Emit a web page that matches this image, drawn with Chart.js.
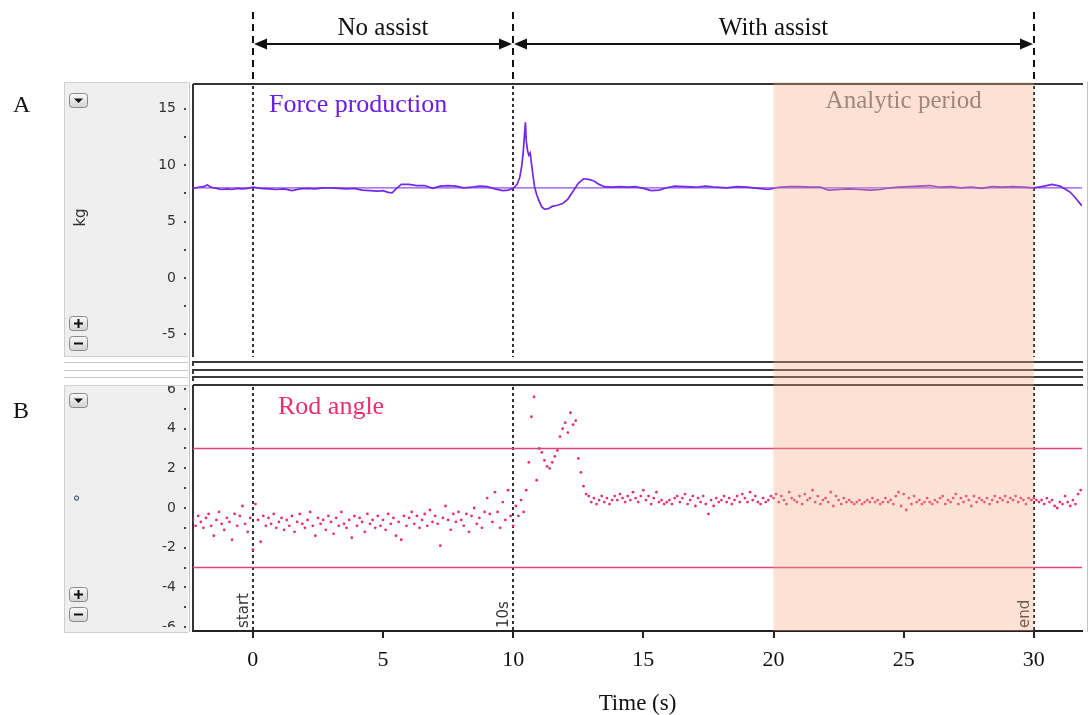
<!DOCTYPE html>
<html><head><meta charset="utf-8">
<script src="https://cdn.jsdelivr.net/npm/chart.js@4.4.1/dist/chart.umd.min.js"></script>
<style>
html,body{margin:0;padding:0;background:#fff;}
#wrap{position:relative;width:1092px;height:715px;overflow:hidden;background:#fff;}
canvas{position:absolute;left:0;}
#cA{top:0;}
#cB{top:360px;}
</style></head><body>
<div id="wrap"><canvas id="cA" width="1092" height="360"></canvas><canvas id="cB" width="1092" height="355"></canvas></div>
<script>
// ---------------- data ----------------
const timeRange = [-2.3, 31.85];          // s, visible window
const phaseMarks = [0, 10, 30];            // s
const phaseMarkLabels = ['start', '10s', 'end'];
const phaseNames = ['No assist', 'With assist'];
const phaseBounds = [0, 10, 30];           // No assist: 0-10, With assist: 10-30
const analyticPeriod = [20, 30];           // s

const forceTime = [
  -2.3,-2.1,-1.9,-1.75,-1.6,-1.4,-1.2,-1.0,-0.8,-0.6,
  -0.4,-0.2,0.0,0.3,0.6,0.9,1.2,1.5,1.8,2.1,
  2.4,2.7,3.0,3.3,3.6,3.9,4.2,4.5,4.8,5.0,
  5.2,5.35,5.5,5.7,6.0,6.3,6.6,6.9,7.2,7.5,
  7.8,8.1,8.4,8.7,9.0,9.3,9.6,9.8,10.0,10.15,
  10.25,10.32,10.38,10.43,10.47,10.5,10.55,10.6,10.65,10.7,
  10.76,10.82,10.9,11.0,11.1,11.2,11.35,11.5,11.7,11.9,
  12.1,12.3,12.5,12.7,12.9,13.1,13.3,13.5,13.8,14.1,
  14.4,14.7,15.0,15.3,15.6,15.9,16.2,16.6,17.0,17.4,
  17.8,18.2,18.6,19.0,19.4,19.8,20.2,20.6,21.0,21.4,
  21.8,22.1,22.5,22.9,23.3,23.7,24.1,24.5,24.8,25.2,
  25.6,26.0,26.4,26.8,27.2,27.6,28.0,28.4,28.8,29.2,
  29.6,30.0,30.4,30.7,31.0,31.2,31.4,31.6,31.85
];
const forceKg = [
  7.95,8.05,8.1,8.25,8.05,7.95,7.85,7.9,7.85,7.95,
  7.9,7.95,8.05,7.95,7.9,7.85,7.9,7.75,7.9,7.95,
  7.9,8.0,8.0,7.95,7.9,7.95,7.8,7.75,7.7,7.75,
  7.6,7.55,7.9,8.3,8.3,8.2,8.2,7.95,8.15,8.2,
  8.15,8.0,8.05,8.15,8.1,7.9,7.75,7.8,7.95,8.3,
  8.9,9.8,11.0,12.6,13.8,12.2,11.3,10.9,11.1,10.2,
  9.1,8.1,7.4,6.8,6.3,6.1,6.15,6.35,6.45,6.6,
  7.0,7.7,8.4,8.8,8.75,8.6,8.3,8.1,8.05,8.1,
  8.05,8.1,7.95,7.75,7.8,8.0,8.15,8.1,8.05,8.15,
  8.05,8.0,8.1,8.05,7.95,7.85,8.05,8.1,8.1,8.05,
  8.05,7.8,7.85,7.9,7.85,7.8,7.85,8.0,8.05,8.1,
  8.15,8.2,8.05,8.1,8.0,8.05,7.95,8.1,8.05,8.1,
  8.05,8.0,8.15,8.3,8.15,7.9,7.6,7.1,6.4
];
const forceRefKg = 8;
const forceRange = [-7.0, 17.2];

const angleStart = -2.3;   // s, first sample
const angleStep = 0.1;     // s, sampling interval
const angleDeg = [
  -0.6,-0.9,-0.4,
  -0.7,-1.0,-0.5,-0.3,-0.9,-1.4,-0.6,-0.2,-0.8,-1.1,
  -0.5,-0.7,-1.6,-0.3,-0.9,-0.4,0.1,-0.8,-1.2,-0.5,
  -2.1,0.2,-0.6,-1.7,-0.4,-0.9,-0.5,-0.8,-0.3,-1.0,
  -0.7,-0.5,-1.1,-0.6,-0.9,-0.4,-1.2,-0.7,-0.3,-0.8,
  -1.0,-0.6,-0.2,-0.9,-1.4,-0.5,-0.8,-0.6,-1.1,-0.4,
  -0.7,-1.3,-0.5,-0.9,-0.2,-0.8,-1.0,-0.6,-1.5,-0.4,
  -0.9,-0.5,-0.7,-1.2,-0.3,-0.8,-0.6,-1.0,-0.4,-0.9,
  -0.6,-1.1,-0.3,-0.8,-0.5,-1.4,-0.7,-1.6,-0.4,-0.9,
  -0.5,-0.2,-0.8,-0.4,-1.0,-0.6,-0.3,-0.9,-0.1,-0.7,
  -0.4,-0.8,-1.9,-0.5,0.1,-0.6,-1.1,-0.3,-0.7,-0.2,
  -0.6,-0.9,-0.3,-1.2,-0.4,0.0,-0.8,-0.5,-1.0,-0.2,
  0.5,-0.3,-0.7,0.8,-0.2,-1.0,0.3,-0.6,0.9,-0.4,
  -0.9,0.1,-0.4,0.4,-0.2,0.9,2.3,4.6,5.6,1.4,
  3.0,2.8,2.4,2.1,2.0,2.3,2.6,2.9,3.6,4.0,
  4.3,3.8,4.8,4.2,4.4,2.5,1.8,1.1,0.7,0.6,
  0.3,0.5,0.2,0.4,0.6,0.3,0.5,0.2,0.4,0.6,
  0.4,0.7,0.5,0.3,0.6,0.4,0.8,0.5,0.3,0.6,
  0.9,0.4,0.6,0.2,0.5,0.8,0.3,0.4,0.2,0.3,
  0.4,0.2,0.5,0.6,0.3,0.5,0.7,0.2,0.4,0.6,
  0.1,0.5,0.3,0.6,0.2,-0.3,0.4,0.1,0.5,0.3,
  0.4,0.6,0.3,0.5,0.2,0.4,0.6,0.3,0.7,0.5,
  0.3,0.8,0.4,0.6,0.3,0.2,0.5,0.3,0.4,0.6,
  0.5,0.7,0.3,0.6,0.4,0.2,0.8,0.5,0.4,0.3,
  0.6,0.2,0.7,0.4,0.5,0.9,0.3,0.6,0.2,0.4,
  0.5,0.3,0.8,0.1,0.6,0.4,0.2,0.5,0.3,0.4,
  0.3,0.2,0.3,0.4,0.2,0.3,0.4,0.3,0.5,0.3,
  0.4,0.2,0.3,0.5,0.3,0.4,0.2,0.6,0.8,0.1,
  0.7,-0.1,0.5,0.2,0.6,0.3,0.4,0.2,0.3,0.5,
  0.3,0.2,0.4,0.3,0.5,0.6,0.2,0.4,0.3,0.5,
  0.7,0.2,0.5,0.3,0.6,0.4,0.1,0.6,0.3,0.5,
  0.4,0.3,0.5,0.2,0.4,0.6,0.3,0.5,0.4,0.6,
  0.3,0.5,0.4,0.6,0.3,0.5,0.4,0.2,0.5,0.4,
  0.5,0.4,0.3,0.4,0.2,0.5,0.3,0.4,0.1,0.0,
  0.3,0.2,0.6,0.3,0.1,0.4,0.2,0.7,0.9,0.6
];
const angleLimits = [3, -3];
const angleRange = [-6.2, 6.2];

// ---------------- style ----------------
const SERIF = '"Liberation Serif", "Times New Roman", serif';
const SANS = '"DejaVu Sans", Verdana, sans-serif';
const FORCE_COLOR = '#7328e3';
const FORCE_TEXT = '#6a1de8';
const ANGLE_COLOR = '#e8306f';
const SHADE = 'rgba(243,170,130,0.34)';

function xPix(chart, v) { return chart.scales.x.getPixelForValue(v); }

function drawButton(ctx, x, y, kind) {
  const w = 18, h = 14;
  ctx.save();
  ctx.beginPath();
  if (ctx.roundRect) ctx.roundRect(x + 0.5, y + 0.5, w, h, 3); else ctx.rect(x + 0.5, y + 0.5, w, h);
  const g = ctx.createLinearGradient(0, y, 0, y + h);
  g.addColorStop(0, '#fbfbfb'); g.addColorStop(1, '#d4d4d4');
  ctx.fillStyle = g; ctx.fill();
  ctx.strokeStyle = '#8a8a8a'; ctx.lineWidth = 1; ctx.stroke();
  const cx = x + w / 2 + 0.5, cy = y + h / 2 + 0.5;
  ctx.fillStyle = '#111'; ctx.strokeStyle = '#111'; ctx.lineWidth = 2;
  if (kind === 'down') {
    ctx.beginPath(); ctx.moveTo(cx - 4.5, cy - 2); ctx.lineTo(cx + 4.5, cy - 2); ctx.lineTo(cx, cy + 2.5); ctx.closePath(); ctx.fill();
  } else {
    ctx.beginPath(); ctx.moveTo(cx - 4.5, cy); ctx.lineTo(cx + 4.5, cy);
    if (kind === 'plus') { ctx.moveTo(cx, cy - 4.5); ctx.lineTo(cx, cy + 4.5); }
    ctx.stroke();
  }
  ctx.restore();
}

function drawTickDots(chart) {
  const {ctx, chartArea: a, scales: {y}} = chart;
  ctx.fillStyle = '#444';
  y.ticks.forEach(t => {
    const py = Math.round(y.getPixelForValue(t.value));
    if (py >= a.top - 1 && py <= a.bottom + 1) ctx.fillRect(a.left - 9, py - 1, 2, 2);
  });
}

function drawPhaseLines(chart) {
  const {ctx, chartArea: a} = chart;
  ctx.save();
  ctx.setLineDash([3, 3]); ctx.strokeStyle = '#333'; ctx.lineWidth = 2;
  phaseMarks.forEach(v => {
    const x = Math.round(xPix(chart, v));
    ctx.beginPath(); ctx.moveTo(x, a.top + 2); ctx.lineTo(x, a.bottom); ctx.stroke();
  });
  ctx.restore();
}

function drawArrowHead(ctx, tipX, y, dir) {
  ctx.beginPath();
  ctx.moveTo(tipX, y);
  ctx.lineTo(tipX + dir * 13, y - 5.5);
  ctx.lineTo(tipX + dir * 13, y + 5.5);
  ctx.closePath(); ctx.fill();
}

const panelA = {
  id: 'panelA',
  beforeDraw(chart) {
    const {ctx, chartArea: a} = chart;
    ctx.save();
    ctx.fillStyle = '#efefef'; ctx.fillRect(64, 82, 124, a.bottom - 82);
    ctx.strokeStyle = '#d0d0d0'; ctx.lineWidth = 1;
    ctx.beginPath();
    ctx.moveTo(64, 82.5); ctx.lineTo(188, 82.5);
    ctx.moveTo(64.5, 82); ctx.lineTo(64.5, a.bottom);
    ctx.moveTo(64, a.bottom - 0.5); ctx.lineTo(188, a.bottom - 0.5);
    ctx.stroke();
    ctx.strokeStyle = '#c2c2c2';
    ctx.beginPath();
    ctx.moveTo(189.5, 82); ctx.lineTo(189.5, chart.height);
    ctx.moveTo(1087.5, 82); ctx.lineTo(1087.5, chart.height);
    ctx.stroke();
    ctx.restore();
  },
  beforeDatasetsDraw(chart) {
    const {ctx, chartArea: a} = chart;
    ctx.save();
    ctx.strokeStyle = '#333'; ctx.lineWidth = 2;
    ctx.beginPath();
    ctx.moveTo(a.left, a.top); ctx.lineTo(a.right + 1, a.top);
    ctx.moveTo(a.left, a.top); ctx.lineTo(a.left, a.bottom);
    ctx.stroke();
    drawTickDots(chart);
    ctx.restore();
    drawPhaseLines(chart);
  },
  afterDatasetsDraw(chart) {
    const {ctx, chartArea: a} = chart;
    const x0 = xPix(chart, analyticPeriod[0]), x1 = xPix(chart, analyticPeriod[1]);
    ctx.save();
    ctx.fillStyle = SHADE;
    ctx.fillRect(x0, a.top - 2, x1 - x0, chart.height - a.top + 2);
    ctx.restore();
  },
  afterDraw(chart) {
    const {ctx, chartArea: a} = chart;
    ctx.save();
    // top phase markers (dashed) and arrows
    ctx.strokeStyle = '#111'; ctx.lineWidth = 2; ctx.setLineDash([7, 5]);
    phaseBounds.forEach(v => {
      const x = Math.round(xPix(chart, v));
      ctx.beginPath(); ctx.moveTo(x, 12); ctx.lineTo(x, a.top - 2); ctx.stroke();
    });
    ctx.setLineDash([]);
    ctx.fillStyle = '#111';
    const ay = 44;
    for (let i = 0; i < phaseNames.length; i++) {
      const xa = Math.round(xPix(chart, phaseBounds[i])) + 1;
      const xb = Math.round(xPix(chart, phaseBounds[i + 1])) - 1;
      ctx.beginPath(); ctx.moveTo(xa + 6, ay); ctx.lineTo(xb - 6, ay); ctx.stroke();
      drawArrowHead(ctx, xa, ay, 1);
      drawArrowHead(ctx, xb, ay, -1);
      ctx.font = `25px ${SERIF}`; ctx.textAlign = 'center'; ctx.textBaseline = 'alphabetic';
      ctx.fillText(phaseNames[i], (xa + xb) / 2, 35);
    }
    // panel letter
    ctx.textAlign = 'left';
    ctx.font = `24px ${SERIF}`; ctx.fillStyle = '#111';
    ctx.fillText('A', 13, 112);
    // panel title
    ctx.font = `26px ${SERIF}`; ctx.fillStyle = FORCE_TEXT;
    ctx.fillText('Force production', 269, 112);
    // analytic period label
    const p0 = xPix(chart, analyticPeriod[0]), p1 = xPix(chart, analyticPeriod[1]);
    ctx.font = `25px ${SERIF}`; ctx.fillStyle = '#a1877a'; ctx.textAlign = 'center';
    ctx.fillText('Analytic period', (p0 + p1) / 2, 108);
    // axis unit
    ctx.save();
    ctx.translate(85, (a.top + a.bottom) / 2 - 3); ctx.rotate(-Math.PI / 2);
    ctx.font = `15px ${SANS}`; ctx.fillStyle = '#333'; ctx.textAlign = 'center';
    ctx.fillText('kg', 0, 0);
    ctx.restore();
    ctx.restore();
    drawButton(ctx, 69, 93, 'down');
    drawButton(ctx, 69, 316, 'plus');
    drawButton(ctx, 69, 336, 'minus');
  }
};

const gapLines = [2, 10, 17];
const panelB = {
  id: 'panelB',
  beforeDraw(chart) {
    const {ctx, chartArea: a} = chart;
    ctx.save();
    // collapsed channel separators
    gapLines.forEach(y => {
      ctx.strokeStyle = '#c8c8c8'; ctx.lineWidth = 1;
      ctx.beginPath(); ctx.moveTo(64, y + 0.5); ctx.lineTo(188, y + 0.5); ctx.stroke();
      ctx.strokeStyle = '#3a3a3a'; ctx.lineWidth = 2;
      ctx.beginPath(); ctx.moveTo(a.left, y + 4); ctx.lineTo(a.left, y); ctx.lineTo(a.right + 1, y); ctx.stroke();
    });
    ctx.fillStyle = '#efefef'; ctx.fillRect(64, a.top, 124, a.bottom - a.top + 1);
    ctx.strokeStyle = '#d0d0d0'; ctx.lineWidth = 1;
    ctx.beginPath();
    ctx.moveTo(64, a.top + 0.5); ctx.lineTo(188, a.top + 0.5);
    ctx.moveTo(64.5, a.top); ctx.lineTo(64.5, a.bottom + 1);
    ctx.moveTo(64, a.bottom + 1.5); ctx.lineTo(188, a.bottom + 1.5);
    ctx.stroke();
    ctx.strokeStyle = '#c2c2c2';
    ctx.beginPath();
    ctx.moveTo(189.5, 0); ctx.lineTo(189.5, a.bottom + 1);
    ctx.moveTo(1087.5, 0); ctx.lineTo(1087.5, a.bottom + 1);
    ctx.stroke();
    ctx.restore();
    // clip the y tick labels at the channel edges
    ctx.save();
    ctx.beginPath();
    ctx.rect(0, 0, chart.width, chart.height);
    ctx.rect(120, 0, 66, a.top + 1);
    ctx.rect(120, a.bottom - 4, 66, 40);
    ctx.clip('evenodd');
  },
  beforeDatasetsDraw(chart) {
    const {ctx, chartArea: a} = chart;
    ctx.restore();
    ctx.save();
    ctx.strokeStyle = '#333'; ctx.lineWidth = 2;
    ctx.beginPath();
    ctx.moveTo(a.left, a.top); ctx.lineTo(a.right + 1, a.top);
    ctx.moveTo(a.left, a.top); ctx.lineTo(a.left, a.bottom);
    ctx.stroke();
    drawTickDots(chart);
    ctx.restore();
    drawPhaseLines(chart);
  },
  afterDatasetsDraw(chart) {
    const {ctx, chartArea: a} = chart;
    ctx.save();
    // phase marker labels
    ctx.font = `15px ${SANS}`; ctx.fillStyle = '#333'; ctx.textAlign = 'left'; ctx.textBaseline = 'alphabetic';
    phaseMarks.forEach((v, i) => {
      ctx.save();
      ctx.translate(Math.round(xPix(chart, v)) - 5, a.bottom - 3);
      ctx.rotate(-Math.PI / 2);
      ctx.fillText(phaseMarkLabels[i], 0, 0);
      ctx.restore();
    });
    const x0 = xPix(chart, analyticPeriod[0]), x1 = xPix(chart, analyticPeriod[1]);
    ctx.fillStyle = SHADE;
    ctx.fillRect(x0, 0, x1 - x0, a.bottom);
    ctx.restore();
  },
  afterDraw(chart) {
    const {ctx, chartArea: a} = chart;
    ctx.save();
    ctx.font = `24px ${SERIF}`; ctx.fillStyle = '#111'; ctx.textAlign = 'left';
    ctx.fillText('B', 13, 58);
    ctx.font = `26px ${SERIF}`; ctx.fillStyle = ANGLE_COLOR;
    ctx.fillText('Rod angle', 278, 54);
    ctx.save();
    ctx.translate(87, (a.top + a.bottom) / 2 - 10); ctx.rotate(-Math.PI / 2);
    ctx.font = `17px ${SANS}`; ctx.fillStyle = '#4a5878'; ctx.textAlign = 'center';
    ctx.fillText('°', 0, 0);
    ctx.restore();
    ctx.restore();
    drawButton(ctx, 69, 33, 'down');
    drawButton(ctx, 69, 227, 'plus');
    drawButton(ctx, 69, 247, 'minus');
  }
};

function noEdgePadding(sc) {
  sc.paddingTop = 0; sc.paddingBottom = 0; sc.paddingLeft = 0; sc.paddingRight = 0;
}
function xScale(show) {
  return {
    type: 'linear', min: timeRange[0], max: timeRange[1], display: show,
    ticks: { stepSize: 5, includeBounds: false, autoSkip: false, maxRotation: 0,
             font: { family: SERIF, size: 22 }, color: '#111', padding: 9 },
    grid: { drawOnChartArea: false, drawTicks: true, tickLength: 7, color: '#222', lineWidth: 2 },
    border: { display: true, color: '#222', width: 2 },
    title: { display: show, text: 'Time (s)', color: '#111',
             font: { family: SERIF, size: 23, lineHeight: 1 }, padding: { top: 0, bottom: 0 } },
    afterFit: sc => { sc.height = show ? 84 : 0; noEdgePadding(sc); }
  };
}
function yScale(range, step, labelEvery) {
  return {
    type: 'linear', min: range[0], max: range[1],
    ticks: { stepSize: step, includeBounds: false, autoSkip: false,
             callback: v => (Math.abs(v % labelEvery) < 1e-9 ? String(v) : ''),
             font: { family: SANS, size: 14 }, color: '#333', padding: 17 },
    grid: { display: false, drawTicks: false },
    border: { display: false },
    afterFit: s => { s.width = 193; noEdgePadding(s); }
  };
}
const common = {
  responsive: false, animation: false, devicePixelRatio: 1,
  plugins: { legend: { display: false }, tooltip: { enabled: false } },
  events: []
};

new Chart(document.getElementById('cA'), {
  type: 'line',
  data: {
    datasets: [
      { data: forceTime.map((t, i) => ({ x: t, y: forceKg[i] })),
        borderColor: FORCE_COLOR, borderWidth: 1.7, pointRadius: 0, tension: 0, fill: false },
      { data: [{ x: timeRange[0], y: forceRefKg }, { x: timeRange[1], y: forceRefKg }],
        borderColor: '#8c4ff0', borderWidth: 1.3, pointRadius: 0, fill: false }
    ]
  },
  options: Object.assign({}, common, {
    layout: { autoPadding: false, padding: { top: 84, right: 10, bottom: 3, left: 0 } },
    scales: { x: xScale(false), y: yScale(forceRange, 2.5, 5) }
  }),
  plugins: [panelA]
});

new Chart(document.getElementById('cB'), {
  type: 'scatter',
  data: {
    datasets: [
      { type: 'line', data: [{ x: timeRange[0], y: angleLimits[0] }, { x: timeRange[1], y: angleLimits[0] }],
        borderColor: '#e2417a', borderWidth: 1.6, pointRadius: 0, fill: false },
      { type: 'line', data: [{ x: timeRange[0], y: angleLimits[1] }, { x: timeRange[1], y: angleLimits[1] }],
        borderColor: '#e2417a', borderWidth: 1.6, pointRadius: 0, fill: false },
      { data: angleDeg.map((v, i) => ({ x: angleStart + i * angleStep, y: v })),
        pointRadius: 1.4, pointBorderWidth: 0, pointBackgroundColor: ANGLE_COLOR, backgroundColor: ANGLE_COLOR }
    ]
  },
  options: Object.assign({}, common, {
    layout: { autoPadding: false, padding: { top: 25, right: 10, bottom: 0, left: 0 } },
    scales: { x: xScale(true), y: yScale(angleRange, 1, 2) }
  }),
  plugins: [panelB]
});
</script>
</body></html>
